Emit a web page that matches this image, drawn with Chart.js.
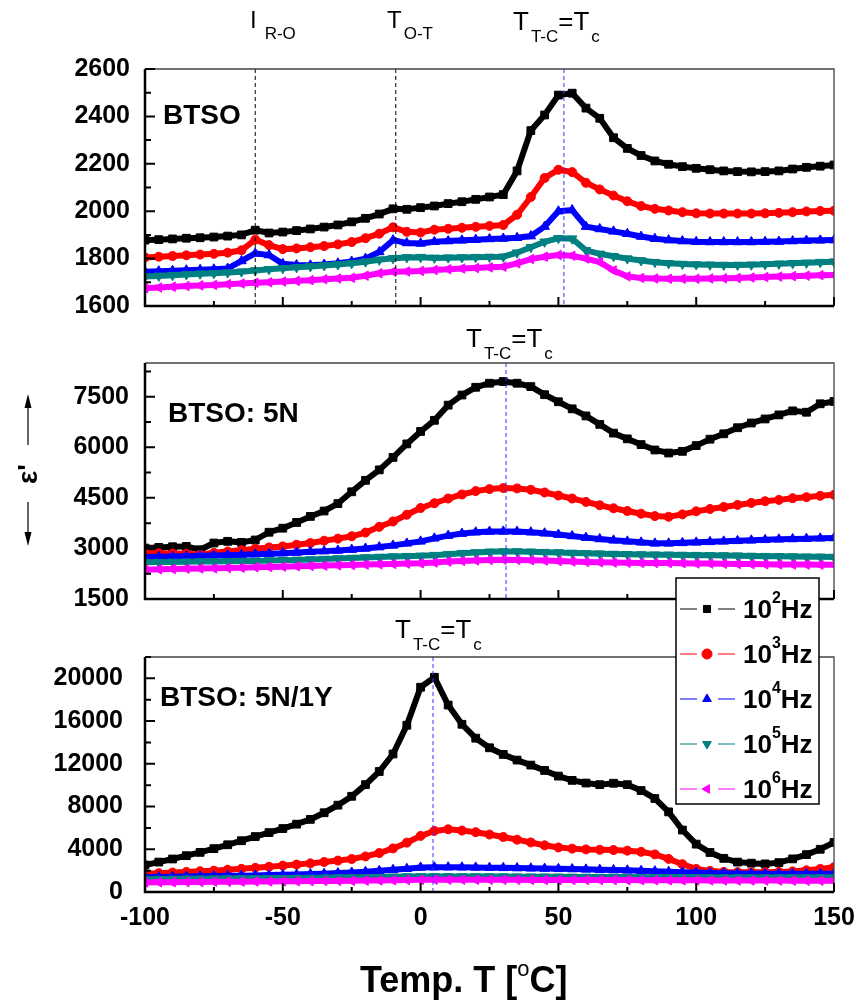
<!DOCTYPE html>
<html>
<head>
<meta charset="utf-8">
<script src="https://cdn.jsdelivr.net/npm/chart.js@4.4.1/dist/chart.umd.min.js"></script>
<style>
    html, body { margin: 0; padding: 0; background: #fff; }
    #wrap { position: relative; width: 860px; height: 1001px; overflow: hidden; }
    #wrap canvas { position: absolute; left: 0; }
</style>
</head>
<body>
<div id="wrap">
    <canvas id="c1" width="860" height="350" style="top:0px"></canvas>
    <canvas id="c2" width="860" height="330" style="top:320px"></canvas>
    <canvas id="c3" width="860" height="441" style="top:560px"></canvas>
</div>
<script>
// --- Datos ---
const temps = [-100,-95,-90,-85,-80,-75,-70,-65,-60,-55,-50,-45,-40,-35,-30,-25,-20,-15,-10,-5,
    0,5,10,15,20,25,30,35,40,45,50,55,60,65,70,75,80,85,90,95,100,105,110,115,120,125,130,135,140,145,150];

const freqExp = ['2', '3', '4', '5', '6'];
const xTicks = [-100, -50, 0, 50, 100, 150];

// BTSO
const btsoHz2 = [1878,1880,1883,1886,1888,1891,1895,1900,1920,1908,
    1912,1918,1925,1933,1942,1955,1970,1988,2010,2008,
    2015,2022,2032,2040,2050,2060,2070,2170,2340,2406,
    2490,2498,2435,2392,2310,2265,2235,2212,2198,2188,
    2181,2175,2170,2167,2166,2167,2170,2178,2185,2190,2195];
const btsoHz3 = [1805,1808,1811,1814,1817,1820,1825,1835,1880,1857,
    1840,1843,1848,1853,1860,1870,1886,1905,1932,1913,
    1910,1922,1926,1930,1934,1938,1942,1985,2060,2140,
    2175,2165,2120,2092,2066,2042,2022,2010,2003,1996,
    1991,1990,1990,1990,1990,1991,1993,1996,1999,2001,2002];
const btsoHz4 = [1745,1747,1749,1751,1753,1755,1758,1790,1822,1815,
    1778,1773,1772,1775,1780,1788,1800,1828,1878,1866,
    1864,1871,1874,1877,1880,1883,1885,1888,1895,1935,
    2000,2005,1935,1925,1915,1905,1893,1884,1878,1874,
    1871,1870,1870,1870,1870,1871,1872,1874,1876,1877,1878];
const btsoHz5 = [1724,1727,1730,1733,1736,1738,1741,1745,1750,1755,
    1759,1763,1767,1771,1775,1780,1787,1795,1801,1805,
    1806,1803,1804,1805,1806,1807,1808,1825,1848,1871,
    1886,1884,1835,1820,1810,1800,1792,1785,1780,1777,
    1775,1774,1773,1773,1774,1776,1778,1780,1782,1785,1787];
const btsoHz6 = [1675,1678,1681,1684,1687,1689,1692,1695,1698,1700,
    1703,1706,1709,1713,1716,1719,1728,1738,1745,1746,
    1748,1752,1755,1758,1760,1763,1766,1780,1798,1808,
    1815,1812,1800,1785,1750,1725,1718,1716,1715,1715,
    1715,1716,1717,1718,1720,1722,1724,1726,1728,1730,1731];

// BTSO: 5N
const n5Hz2 = [3010,3030,3050,3060,2960,3160,3210,3180,3250,3480,
    3600,3770,3950,4110,4330,4680,5020,5330,5700,6100,
    6470,6800,7250,7550,7780,7900,7950,7900,7800,7560,
    7350,7140,6930,6680,6420,6250,6080,5920,5830,5880,
    6050,6240,6400,6580,6720,6840,6960,7080,7040,7290,7360];
const n5Hz3 = [2860,2855,2850,2840,2815,2870,2910,2950,2990,3030,
    3060,3110,3160,3230,3290,3360,3470,3640,3800,4000,
    4200,4340,4480,4600,4700,4760,4790,4780,4740,4660,
    4570,4480,4380,4280,4190,4110,4030,3960,3940,4010,
    4100,4170,4230,4290,4350,4400,4440,4490,4520,4560,4590];
const n5Hz4 = [2740,2750,2760,2770,2780,2790,2800,2810,2830,2845,
    2860,2880,2900,2920,2940,2965,3000,3040,3090,3150,
    3210,3300,3380,3440,3480,3500,3505,3500,3480,3450,
    3410,3370,3320,3280,3240,3210,3180,3150,3150,3165,
    3180,3195,3210,3225,3240,3255,3270,3280,3290,3300,3310];
const n5Hz5 = [2590,2595,2600,2605,2610,2615,2620,2625,2630,2640,
    2650,2660,2670,2685,2700,2715,2730,2745,2760,2770,
    2780,2800,2830,2860,2880,2900,2910,2910,2900,2890,
    2880,2865,2855,2845,2835,2825,2820,2815,2810,2805,
    2800,2795,2790,2785,2775,2770,2765,2760,2755,2750,2745];
const n5Hz6 = [2370,2380,2390,2400,2405,2410,2420,2430,2440,2450,
    2460,2470,2480,2490,2500,2510,2520,2530,2540,2550,
    2560,2580,2610,2630,2645,2660,2665,2660,2650,2640,
    2625,2610,2600,2590,2580,2575,2570,2565,2565,2560,
    2555,2550,2545,2540,2535,2530,2527,2524,2521,2519,2517];

// BTSO: 5N/1Y
const n5y1Hz2 = [2530,2800,3090,3400,3710,4060,4420,4800,5190,5560,
    5940,6350,6800,7420,8130,8960,10050,11280,12920,15610,
    19170,20100,17500,15700,14400,13500,12880,12350,11880,11380,
    10850,10450,10200,10050,10180,10050,9500,8750,7500,5800,
    4480,3700,3150,2800,2700,2630,2750,3100,3500,4000,4640];
const n5y1Hz3 = [1700,1760,1820,1880,1940,2000,2080,2170,2260,2360,
    2470,2570,2680,2810,2940,3090,3330,3650,4080,4620,
    5250,5720,5870,5750,5600,5380,5150,4900,4640,4370,
    4170,4060,3990,3950,3930,3870,3760,3520,3100,2600,
    2160,1980,1880,1860,1855,1855,1880,1930,2030,2160,2320];
const n5y1Hz4 = [1390,1410,1430,1450,1470,1490,1510,1530,1555,1580,
    1605,1640,1680,1720,1770,1830,1900,1980,2080,2180,
    2300,2320,2320,2310,2300,2280,2260,2240,2220,2200,
    2170,2150,2120,2090,2060,2030,1990,1950,1900,1860,
    1830,1790,1760,1740,1720,1705,1700,1700,1700,1700,1700];
const n5y1Hz5 = [1200,1210,1220,1230,1240,1250,1260,1270,1280,1290,
    1300,1310,1320,1335,1350,1365,1380,1400,1420,1440,
    1450,1460,1460,1455,1450,1445,1440,1435,1430,1425,
    1420,1415,1410,1405,1400,1395,1390,1385,1380,1375,
    1370,1365,1360,1358,1356,1354,1352,1350,1350,1350,1350];
const n5y1Hz6 = [900,910,920,930,940,950,960,970,980,990,
    1000,1010,1020,1030,1040,1050,1065,1080,1100,1120,
    1140,1150,1150,1148,1145,1142,1140,1137,1134,1131,
    1128,1125,1122,1118,1115,1112,1108,1104,1100,1096,
    1092,1088,1084,1080,1076,1072,1068,1064,1060,1055,1050];

// Ejes y temperaturas de transición
const yTicksBTSO = [1600, 1800, 2000, 2200, 2400, 2600];
const yTicks5N = [1500, 3000, 4500, 6000, 7500];
const yTicks5N1Y = [0, 4000, 8000, 12000, 16000, 20000];
const yMaxBTSO = 2600, yMax5N = 8500, yMax5N1Y = 22000;
const tRO = -60, tOT = -9, tcBTSO = 52, tc5N = 31, tc5N1Y = 4.5;

/* --- Estilos --- */
const FONT = '"Liberation Sans", Arial, sans-serif';
const colors = ['#000000', '#ff0000', '#0000ff', '#008080', '#ff00ff'];
const styles = ['rect', 'circle', 'triangle', 'triangle', 'triangle'];
const rotations = [0, 0, 0, 180, -90];
const radii = [5.5, 4.5, 5.5, 5.5, 5.5];

function buildDatasets(series) {
    return series.map((vals, i) => ({
        label: '10' + freqExp[i] + 'Hz',
        data: temps.map((t, k) => ({ x: t, y: vals[k] })),
        borderColor: colors[i],
        backgroundColor: colors[i],
        borderWidth: 6,
        pointStyle: styles[i],
        pointRotation: rotations[i],
        pointRadius: radii[i],
        pointBorderWidth: 1,
        tension: 0,
        order: 5 - i
    }));
}

// texto con sub/superíndices: runs = [[texto, tamaño, dy, negrita, separación]]
function drawRuns(ctx, x, y, runs) {
    ctx.textAlign = 'left';
    ctx.textBaseline = 'alphabetic';
    runs.forEach(([t, size, dy, bold, gap]) => {
        x += gap || 0;
        ctx.font = (bold ? 'bold ' : '') + size + 'px ' + FONT;
        ctx.fillText(t, x, y + dy);
        x += ctx.measureText(t).width;
    });
}

function drawTc(ctx, x, y) {
    drawRuns(ctx, x, y, [['T', 26, 0], ['T-C', 17, 12, false, 2], ['=T', 26, 0], ['c', 17, 12, false, 2]]);
}

// Marco, marcas de eje y líneas verticales
function drawFrame(chart, yTicks, marks) {
    const { ctx, chartArea: a, scales: { x, y } } = chart;
    ctx.save();
    // líneas de transición
    ctx.lineWidth = 1;
    ctx.setLineDash([4, 3]);
    marks.forEach(m => {
        const px = x.getPixelForValue(m.t);
        ctx.strokeStyle = m.color;
        ctx.beginPath();
        ctx.moveTo(px, a.top);
        ctx.lineTo(px, a.bottom);
        ctx.stroke();
    });
    ctx.setLineDash([]);

    ctx.strokeStyle = '#444';
    ctx.lineWidth = 1.3;
    ctx.beginPath();
    ctx.moveTo(a.left, a.top);
    ctx.lineTo(a.right, a.top);
    ctx.lineTo(a.right, a.bottom);
    ctx.stroke();

    ctx.strokeStyle = '#000';
    ctx.lineWidth = 2;
    ctx.beginPath();
    const xStep = xTicks[1] - xTicks[0];
    xTicks.forEach(v => {
        const px = x.getPixelForValue(v);
        ctx.moveTo(px, a.bottom); ctx.lineTo(px, a.bottom - 9);
        if (v + xStep / 2 < xTicks[xTicks.length - 1]) {
            const pm = x.getPixelForValue(v + xStep / 2);
            ctx.moveTo(pm, a.bottom); ctx.lineTo(pm, a.bottom - 5);
        }
    });
    const yStep = yTicks[1] - yTicks[0];
    yTicks.forEach(v => {
        const py = y.getPixelForValue(v);
        ctx.moveTo(a.left, py); ctx.lineTo(a.left + 10, py);
        if (v + yStep / 2 <= y.max) {
            const pm = y.getPixelForValue(v + yStep / 2);
            ctx.moveTo(a.left, pm); ctx.lineTo(a.left + 6, pm);
        }
    });
    ctx.stroke();

    ctx.lineWidth = 2.5;
    ctx.beginPath();
    ctx.moveTo(a.left, a.top);
    ctx.lineTo(a.left, a.bottom);
    ctx.lineTo(a.right, a.bottom);
    ctx.stroke();
    ctx.restore();
}

function makePanel(id, series, yTicks, yMax, yPad, pad, showX, decorate) {
    const canvas = document.getElementById(id);
    return new Chart(canvas.getContext('2d'), {
        type: 'line',
        data: { datasets: buildDatasets(series) },
        options: {
            responsive: false,
            animation: false,
            devicePixelRatio: 1,
            events: [],
            layout: { padding: pad, autoPadding: false },
            plugins: { legend: { display: false }, tooltip: { enabled: false } },
            scales: {
                x: {
                    type: 'linear',
                    min: xTicks[0],
                    max: xTicks[xTicks.length - 1],
                    display: showX,
                    afterBuildTicks: s => { s.ticks = xTicks.map(v => ({ value: v })); },
                    afterFit: s => { s.height = showX ? 109 : 0; },
                    grid: { display: false, drawTicks: showX, tickLength: showX ? 11 : 0 },
                    border: { display: false },
                    ticks: {
                        color: '#000', padding: 0, maxRotation: 0, autoSkip: false,
                        callback: v => String(v),
                        font: { family: FONT, size: 25, weight: 'bold' }
                    }
                },
                y: {
                    min: yTicks[0],
                    max: yMax,
                    afterBuildTicks: s => { s.ticks = yTicks.map(v => ({ value: v })); },
                    afterFit: s => { s.width = 145; },
                    grid: { display: false, drawTicks: false },
                    border: { display: false },
                    ticks: {
                        color: '#000', padding: yPad, autoSkip: false,
                        callback: v => String(v),
                        font: { family: FONT, size: 25, weight: 'bold' }
                    }
                }
            }
        },
        plugins: [{ id: 'decor', afterDraw: decorate }]
    });
}

// Panel 1: BTSO
makePanel('c1', [btsoHz2, btsoHz3, btsoHz4, btsoHz5, btsoHz6], yTicksBTSO, yMaxBTSO, 15,
    { top: 69, bottom: 44, left: 0, right: 26 }, false, chart => {
        drawFrame(chart, yTicksBTSO, [
            { t: tRO, color: '#000' }, { t: tOT, color: '#000' }, { t: tcBTSO, color: '#3333ff' }
        ]);
        const ctx = chart.ctx;
        ctx.save();
        ctx.fillStyle = '#000';
        drawRuns(ctx, 250, 28, [['I', 24, 0], ['R-O', 17, 11, false, 8]]);
        drawRuns(ctx, 387, 28, [['T', 24, 0], ['O-T', 17, 11, false, 2]]);
        drawTc(ctx, 513, 30);
        drawRuns(ctx, 163, 124, [['BTSO', 28, 0, true]]);
        ctx.restore();
    });

// Panel 2: BTSO: 5N
makePanel('c2', [n5Hz2, n5Hz3, n5Hz4, n5Hz5, n5Hz6], yTicks5N, yMax5N, 16,
    { top: 43, bottom: 51, left: 0, right: 26 }, false, chart => {
        drawFrame(chart, yTicks5N, [{ t: tc5N, color: '#3333ff' }]);
        const ctx = chart.ctx;
        ctx.save();
        ctx.fillStyle = '#000';
        drawTc(ctx, 466, 27);
        drawRuns(ctx, 168, 102, [['BTSO: 5N', 28, 0, true]]);
        // etiqueta del eje y: ε' con flechas
        ctx.save();
        ctx.translate(37, 164);
        ctx.rotate(-Math.PI / 2);
        drawRuns(ctx, 0, 0, [["ε'", 28, 0, true]]);
        ctx.restore();
        ctx.strokeStyle = '#000';
        ctx.lineWidth = 1.2;
        ctx.beginPath();
        ctx.moveTo(28, 125); ctx.lineTo(28, 84);
        ctx.moveTo(28, 182); ctx.lineTo(28, 220);
        ctx.stroke();
        ctx.beginPath();
        ctx.moveTo(28, 74); ctx.lineTo(24.5, 88); ctx.lineTo(31.5, 88); ctx.closePath();
        ctx.moveTo(28, 226); ctx.lineTo(24.5, 212); ctx.lineTo(31.5, 212); ctx.closePath();
        ctx.fill();
        ctx.restore();
    });

// Panel 3: BTSO: 5N/1Y (con leyenda y título del eje x)
makePanel('c3', [n5y1Hz2, n5y1Hz3, n5y1Hz4, n5y1Hz5, n5y1Hz6], yTicks5N1Y, yMax5N1Y, 22,
    { top: 97, bottom: 0, left: 0, right: 26 }, true, chart => {
        drawFrame(chart, yTicks5N1Y, [{ t: tc5N1Y, color: '#3333ff' }]);
        const ctx = chart.ctx;
        ctx.save();
        ctx.fillStyle = '#000';
        drawTc(ctx, 395, 78);
        drawRuns(ctx, 160, 146, [['BTSO: 5N/1Y', 28, 0, true]]);
        drawRuns(ctx, 360, 432, [['Temp. T [', 36, 0, true], ['o', 22, -16, false], ['C]', 36, 0, true]]);

        // Leyenda
        ctx.fillStyle = '#fff';
        ctx.fillRect(676, 18, 143, 226);
        ctx.strokeStyle = '#000';
        ctx.lineWidth = 1.5;
        ctx.strokeRect(676, 18, 143, 226);
        chart.data.datasets.forEach((ds, i) => {
            const cy = 49 + i * 45;
            ctx.strokeStyle = ds.borderColor;
            ctx.fillStyle = ds.backgroundColor;
            ctx.lineWidth = 1;
            ctx.beginPath();
            ctx.moveTo(680, cy); ctx.lineTo(697, cy);
            ctx.moveTo(718, cy); ctx.lineTo(735, cy);
            ctx.stroke();
            if (Chart.helpers && Chart.helpers.drawPoint) {
                Chart.helpers.drawPoint(ctx, {
                    pointStyle: ds.pointStyle, rotation: ds.pointRotation,
                    radius: 5, borderWidth: 1
                }, 707, cy);
            }
            ctx.fillStyle = '#000';
            drawRuns(ctx, 743, cy + 9, [['10', 26, 0, true], [freqExp[i], 16, -15, true], ['Hz', 26, 0, true]]);
        });
        ctx.restore();
    });
</script>
</body>
</html>
